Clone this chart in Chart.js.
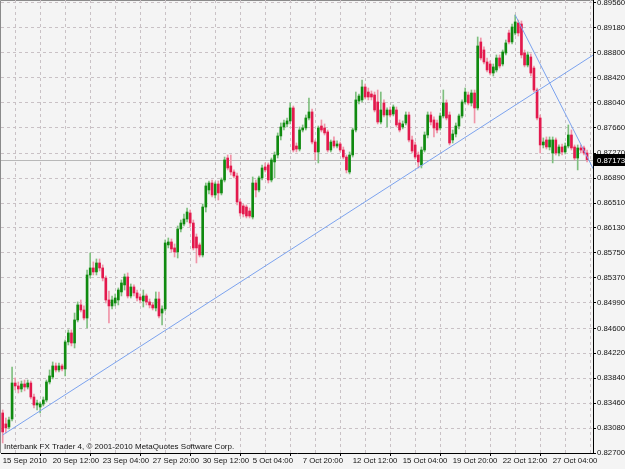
<!DOCTYPE html>
<html>
<head>
<meta charset="utf-8">
<script src="https://cdn.jsdelivr.net/npm/chart.js@4.4.0/dist/chart.umd.min.js"></script>
<style>
  html, body { margin: 0; padding: 0; background: #f4f4f4; }
  #wrap { width: 625px; height: 469px; }
</style>
</head>
<body>
<div id="wrap"><canvas id="fxChart" width="625" height="469"></canvas></div>
<script>
// ── H4 candles, 15 Sep 2010 20:00 onwards ──────────
const opens = [
  0.83310,0.83143,0.83097,0.83219,0.83767,0.83722,0.83676,0.83752,0.83706,0.83767,
  0.83554,0.83432,0.83401,0.83447,0.83508,0.83783,0.83859,0.84027,0.83966,0.84027,
  0.83981,0.84393,0.84530,0.84377,0.84728,0.84957,0.84880,0.84758,0.85414,0.85521,
  0.85460,0.85597,0.85521,0.85368,0.85033,0.84942,0.84987,0.85033,0.85155,0.85262,
  0.85384,0.85094,0.85231,0.85140,0.85079,0.85018,0.85094,0.85003,0.84957,0.84911,
  0.85048,0.84834,0.84896,0.85872,0.85917,0.85826,0.85765,0.86115,0.86191,0.86267,
  0.86359,0.86206,0.85993,0.85872,0.85719,0.86450,0.86710,0.86816,0.86634,0.86801,
  0.86664,0.86862,0.87197,0.87076,0.86984,0.86923,0.86527,0.86466,0.86450,0.86389,
  0.86298,0.86816,0.86710,0.86893,0.87061,0.87091,0.86862,0.87137,0.87243,0.87533,
  0.87670,0.87716,0.87762,0.87960,0.87380,0.87334,0.87624,0.87655,0.87807,0.87899,
  0.87441,0.87289,0.87685,0.87655,0.87594,0.87319,0.87457,0.87380,0.87411,0.87319,
  0.87212,0.86984,0.87243,0.87624,0.88066,0.88082,0.88280,0.88203,0.88173,0.88158,
  0.88051,0.87746,0.88036,0.87853,0.87929,0.87868,0.87929,0.87731,0.87670,0.87731,
  0.87853,0.87472,0.87396,0.87243,0.87091,0.87319,0.87548,0.87853,0.87777,0.87731,
  0.87655,0.87838,0.88036,0.87853,0.87472,0.87563,0.87685,0.87838,0.88051,0.88158,
  0.88036,0.88188,0.87960,0.88966,0.88844,0.88661,0.88630,0.88493,0.88539,0.88722,
  0.88630,0.88798,0.89103,0.88966,0.89103,0.89255,0.89240,0.88798,0.88615,0.88737,
  0.88569,0.88234,0.87807,0.87396,0.87472,0.87365,0.87273,0.87472,0.87273,0.87365,
  0.87289,0.87380,0.87548,0.87365,0.87197,0.87350,0.87350,0.87273
];
const highs = [
  0.83356,0.83234,0.83249,0.84011,0.83844,0.83783,0.83798,0.83813,0.83813,0.83798,
  0.83600,0.83508,0.83478,0.83554,0.83813,0.83966,0.84088,0.84072,0.84072,0.84057,
  0.84423,0.84576,0.84576,0.84834,0.85003,0.85033,0.84942,0.85490,0.85749,0.85613,
  0.85658,0.85658,0.85567,0.85399,0.85170,0.85094,0.85124,0.85216,0.85338,0.85429,
  0.85445,0.85277,0.85262,0.85185,0.85124,0.85185,0.85124,0.85048,0.84987,0.85155,
  0.85155,0.84942,0.85948,0.85978,0.85963,0.85887,0.86161,0.86252,0.86344,0.86435,
  0.86405,0.86252,0.86039,0.85902,0.86496,0.86816,0.86847,0.86862,0.86832,0.86847,
  0.86893,0.87212,0.87243,0.87243,0.87015,0.86969,0.86572,0.86496,0.86481,0.86435,
  0.86908,0.86862,0.86923,0.87091,0.87122,0.87122,0.87197,0.87289,0.87579,0.87731,
  0.87777,0.87807,0.88036,0.87990,0.87426,0.87670,0.87701,0.87853,0.88112,0.87944,
  0.87472,0.87685,0.87777,0.87716,0.87624,0.87472,0.87518,0.87457,0.87441,0.87365,
  0.87243,0.87289,0.87655,0.88203,0.88173,0.88386,0.88325,0.88264,0.88219,0.88203,
  0.88234,0.88203,0.88082,0.87960,0.87975,0.88006,0.87975,0.87777,0.87762,0.87899,
  0.87899,0.87533,0.87441,0.87289,0.87365,0.87594,0.87899,0.87899,0.87823,0.87777,
  0.87883,0.88234,0.88082,0.87899,0.87624,0.87731,0.87868,0.88082,0.88264,0.88203,
  0.88234,0.88234,0.89042,0.89027,0.88890,0.88722,0.88676,0.88630,0.88768,0.88768,
  0.88844,0.88996,0.89149,0.89240,0.89377,0.89301,0.89286,0.88844,0.88813,0.88783,
  0.88600,0.88264,0.87853,0.87503,0.87518,0.87518,0.87518,0.87503,0.87396,0.87411,
  0.87426,0.87701,0.87624,0.87396,0.87396,0.87396,0.87380,0.87319
];
const lows = [
  0.82853,0.83005,0.83067,0.83189,0.83661,0.83615,0.83631,0.83646,0.83676,0.83524,
  0.83386,0.83356,0.83310,0.83417,0.83478,0.83752,0.83829,0.83935,0.83935,0.83950,
  0.83875,0.84347,0.84332,0.84301,0.84698,0.84850,0.84728,0.84606,0.85368,0.85414,
  0.85414,0.85475,0.85323,0.84987,0.84682,0.84896,0.84942,0.84957,0.85094,0.85185,
  0.85063,0.85063,0.85094,0.85018,0.84987,0.84926,0.84957,0.84911,0.84880,0.84865,
  0.84758,0.84652,0.84865,0.85826,0.85765,0.85688,0.85673,0.86070,0.86161,0.86222,
  0.86146,0.85795,0.85597,0.85688,0.85688,0.86374,0.86649,0.86603,0.86588,0.86557,
  0.86634,0.86832,0.87015,0.86938,0.86893,0.86481,0.86313,0.86298,0.86283,0.86283,
  0.86267,0.86603,0.86679,0.86862,0.86984,0.86816,0.86832,0.86893,0.87197,0.87472,
  0.87624,0.87670,0.87716,0.87289,0.87289,0.87304,0.87594,0.87624,0.87777,0.87411,
  0.87167,0.87122,0.87594,0.87548,0.87289,0.87289,0.87350,0.87350,0.87289,0.87182,
  0.86969,0.86954,0.87212,0.87594,0.88021,0.88051,0.88097,0.88082,0.88082,0.87899,
  0.87716,0.87716,0.87823,0.87670,0.87823,0.87838,0.87670,0.87594,0.87640,0.87701,
  0.87441,0.87273,0.87182,0.87045,0.87045,0.87289,0.87503,0.87701,0.87518,0.87579,
  0.87624,0.87807,0.87777,0.87396,0.87426,0.87518,0.87640,0.87807,0.88021,0.88006,
  0.87990,0.87731,0.87929,0.88691,0.88630,0.88508,0.88463,0.88447,0.88508,0.88569,
  0.88600,0.88768,0.88935,0.88935,0.89073,0.89057,0.88722,0.88585,0.88585,0.88447,
  0.88203,0.87777,0.87273,0.87350,0.87334,0.87319,0.87122,0.87243,0.87228,0.87243,
  0.87258,0.87350,0.87319,0.87167,0.87015,0.87273,0.87243,0.87137
];
const closes = [
  0.83021,0.83082,0.83204,0.83767,0.83722,0.83676,0.83752,0.83706,0.83767,0.83554,
  0.83432,0.83462,0.83447,0.83508,0.83783,0.83875,0.84027,0.83966,0.84027,0.83981,
  0.84393,0.84530,0.84377,0.84728,0.84957,0.84880,0.84758,0.85414,0.85521,0.85460,
  0.85597,0.85521,0.85368,0.85033,0.84942,0.85033,0.85063,0.85185,0.85292,0.85384,
  0.85094,0.85231,0.85140,0.85063,0.85033,0.85094,0.85003,0.84957,0.84911,0.85048,
  0.84789,0.84896,0.85902,0.85917,0.85810,0.85765,0.86115,0.86206,0.86267,0.86374,
  0.86206,0.85826,0.85826,0.85719,0.86450,0.86771,0.86816,0.86634,0.86801,0.86664,
  0.86862,0.87167,0.87045,0.86984,0.86923,0.86527,0.86359,0.86344,0.86313,0.86313,
  0.86816,0.86710,0.86893,0.87045,0.87015,0.86862,0.87167,0.87243,0.87533,0.87670,
  0.87731,0.87762,0.87960,0.87319,0.87334,0.87624,0.87655,0.87807,0.87899,0.87441,
  0.87289,0.87655,0.87624,0.87579,0.87319,0.87441,0.87380,0.87411,0.87319,0.87212,
  0.87015,0.87243,0.87624,0.88082,0.88142,0.88280,0.88127,0.88127,0.88127,0.87929,
  0.87746,0.87929,0.87853,0.87929,0.87853,0.87975,0.87701,0.87624,0.87716,0.87853,
  0.87472,0.87304,0.87212,0.87137,0.87319,0.87548,0.87853,0.87746,0.87655,0.87624,
  0.87838,0.88036,0.87807,0.87426,0.87563,0.87685,0.87838,0.88051,0.88203,0.88036,
  0.88188,0.87960,0.88905,0.88722,0.88661,0.88539,0.88493,0.88585,0.88722,0.88600,
  0.88813,0.88951,0.88966,0.89194,0.89271,0.89103,0.88768,0.88615,0.88768,0.88493,
  0.88234,0.87807,0.87396,0.87441,0.87365,0.87472,0.87472,0.87273,0.87365,0.87289,
  0.87380,0.87548,0.87350,0.87197,0.87350,0.87319,0.87273,0.87173
];

// ── Axis labels ────────────────────────────────────
const timeLabels = [
  '15 Sep 2010', '20 Sep 12:00', '23 Sep 04:00', '27 Sep 20:00', '30 Sep 12:00', '5 Oct 04:00',
  '7 Oct 20:00', '12 Oct 12:00', '15 Oct 04:00', '19 Oct 20:00', '22 Oct 12:00', '27 Oct 04:00'
];
const priceLabels = [
  '0.82700', '0.83080', '0.83460', '0.83840', '0.84220', '0.84600', '0.84990', '0.85370', '0.85750', '0.86130',
  '0.86510', '0.86890', '0.87270', '0.87660', '0.88040', '0.88420', '0.88800', '0.89180', '0.89560'
];

// ── Trend lines (bar index, price) ─────────────────
const supportLine = [{ x: 0, y: 0.82975 }, { x: 189, y: 0.88768 }];
const fallLine    = [{ x: 164, y: 0.89377 }, { x: 189, y: 0.87030 }];

const copyright = 'Interbank FX Trader 4, \u00A9 2001-2010 MetaQuotes Software Corp.';

const BARS_PER_LABEL = 16;
const BARS_PER_GRID  = 8;
const UP   = '#0f8a0f', DOWN   = '#e3194d';
const UP_W = '#7fbf7f', DOWN_W = '#f094a8';
const FONT = { family: 'Liberation Sans', size: 7.8 };

const isUp = i => closes[i] >= opens[i];

// ── Plugins ────────────────────────────────────────
const lastPrice = closes[closes.length - 1];

const frame = {
  id: 'frame',
  beforeDraw(chart) {
    const { ctx, chartArea: a } = chart;
    ctx.save();
    ctx.strokeStyle = '#8a8a8a';
    ctx.lineWidth = 1;
    ctx.beginPath();
    ctx.moveTo(0.5, a.bottom); ctx.lineTo(0.5, 0.5); ctx.lineTo(a.right, 0.5);
    ctx.stroke();
    ctx.restore();
  }
};

const priceLine = {
  id: 'priceLine',
  beforeDatasetsDraw(chart) {
    const { ctx, chartArea: a, scales } = chart;
    const y = Math.round(scales.y.getPixelForValue(lastPrice)) + 0.5;
    ctx.save();
    ctx.strokeStyle = '#b8b8b8';
    ctx.lineWidth = 1;
    ctx.beginPath(); ctx.moveTo(a.left, y); ctx.lineTo(a.right, y); ctx.stroke();
    ctx.restore();
  },
  afterDatasetsDraw(chart) {
    const { ctx, chartArea: a } = chart;
    ctx.save();
    ctx.font = `8px "${FONT.family}"`;
    ctx.fillStyle = '#111';
    ctx.textBaseline = 'middle';
    ctx.fillText(copyright, a.left + 3, a.bottom - 6);
    ctx.restore();
  },
  afterDraw(chart) {
    const { ctx, chartArea: a, scales } = chart;
    const y = Math.round(scales.y.getPixelForValue(lastPrice));
    ctx.save();
    ctx.fillStyle = '#000';
    ctx.fillRect(a.right + 1, y - 6, chart.width - a.right - 1, 12);
    ctx.fillStyle = '#fff';
    ctx.font = `${FONT.size}px "${FONT.family}"`;
    ctx.textBaseline = 'middle';
    ctx.fillText(lastPrice.toFixed(5), a.right + 4, y + 0.5);
    ctx.restore();
  }
};

// ── Chart ──────────────────────────────────────────
const bodies = opens.map((o, i) => ({ x: i, y: [o, closes[i]] }));
const wicks  = lows.map((l, i) => ({ x: i, y: [l, highs[i]] }));

new Chart(document.getElementById('fxChart'), {
  type: 'bar',
  data: {
    datasets: [
      { type: 'line', data: supportLine, borderColor: '#7ba2ee', borderWidth: 1, pointRadius: 0, order: 1 },
      { type: 'line', data: fallLine,    borderColor: '#7ba2ee', borderWidth: 1, pointRadius: 0, order: 1 },
      {
        data: bodies, order: 2, grouped: false, barThickness: 2, minBarLength: 1,
        backgroundColor: c => isUp(c.dataIndex) ? UP : DOWN
      },
      {
        data: wicks, order: 3, grouped: false, barThickness: 1,
        backgroundColor: c => isUp(c.dataIndex) ? UP_W : DOWN_W
      }
    ]
  },
  options: {
    responsive: false,
    animation: false,
    events: [],
    layout: { padding: { left: 1, top: 0, right: 0, bottom: 0 } },
    plugins: { legend: { display: false }, tooltip: { enabled: false } },
    scales: {
      x: {
        type: 'linear', offset: false, min: -0.544, max: 188.9,
        afterBuildTicks: s => {
          const t = [];
          for (let i = 0; i < closes.length; i += BARS_PER_GRID) t.push({ value: i });
          s.ticks = t;
        },
        afterFit: s => { s.height = 16; s.paddingLeft = 0; s.paddingRight = 0; },
        grid: {
          color: c => c.tick && c.tick.value === 0 ? 'rgba(0,0,0,0)' : '#c9c1c5',
          lineWidth: 1, drawTicks: true, tickLength: 3,
          tickColor: c => c.tick && c.tick.value % BARS_PER_LABEL === 0 ? '#000' : 'rgba(0,0,0,0)'
        },
        border: { display: true, color: '#000', width: 1, dash: [3, 3] },
        ticks: {
          autoSkip: false, maxRotation: 0, minRotation: 0, align: 'start', padding: 0,
          color: '#111', font: FONT,
          callback: v => v % BARS_PER_LABEL === 0 ? timeLabels[v / BARS_PER_LABEL] : ''
        }
      },
      y: {
        type: 'linear', position: 'right', min: 0.82700, max: 0.896057,
        afterBuildTicks: s => { s.ticks = priceLabels.map(p => ({ value: Number(p) })); },
        afterFit: s => { s.width = 32; s.paddingTop = 0; s.paddingBottom = 0; },
        grid: { color: '#c9c1c5', lineWidth: 1, tickLength: 3, tickColor: '#000' },
        border: { display: true, color: '#000', width: 1, dash: [3, 3] },
        ticks: {
          padding: 1, color: '#111', font: FONT,
          callback: (v, i) => priceLabels[i]
        }
      }
    }
  },
  plugins: [frame, priceLine]
});
</script>
</body>
</html>
